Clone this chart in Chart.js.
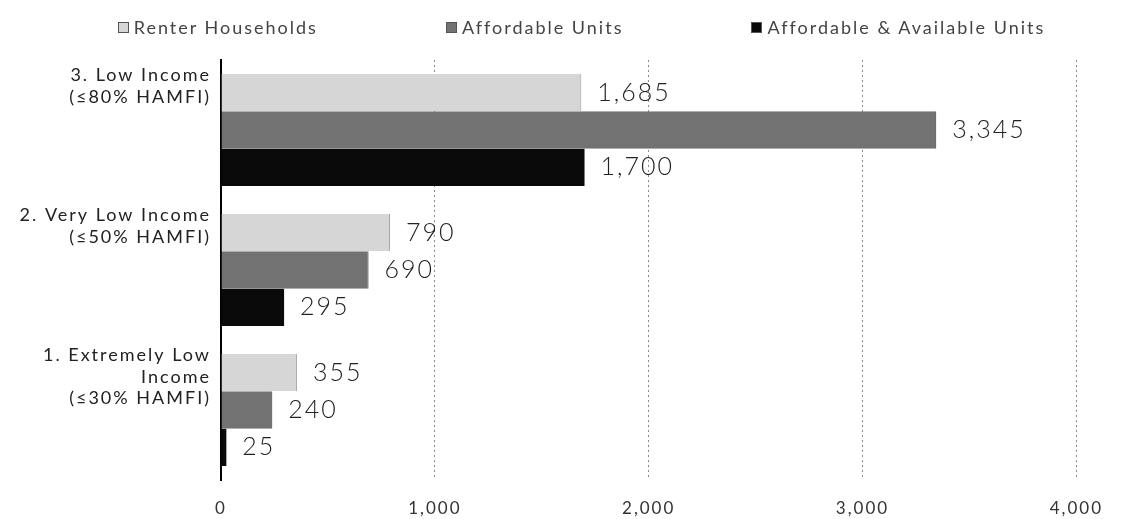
<!DOCTYPE html>
<html>
<head>
<meta charset="utf-8">
<script src="https://cdn.jsdelivr.net/npm/chart.js@4/dist/chart.umd.min.js"></script>
<style>
    html, body { margin: 0; padding: 0; background: #fff; }
    #wrap { position: relative; width: 1121px; height: 519px; }
    #chart { display: block; }
    #legend {
        position: absolute; top: 16px; left: 42px; width: 1079px;
        display: flex; justify-content: center; gap: 128px;
        font-family: "Lato", "DejaVu Sans", sans-serif; font-size: 18px; letter-spacing: 2px; color: #444;
    }
    #legend span.item { display: flex; align-items: center; }
    #legend span.box { display: inline-block; width: 9px; height: 9px; margin-right: 5px; border: 1px solid #555; }
</style>
</head>
<body>
<div id="wrap">
    <div id="legend"></div>
    <canvas id="chart" width="1121" height="519"></canvas>
</div>
<script>
const categories = [
    ["3. Low Income", "(≤80% HAMFI)"],
    ["2. Very Low Income", "(≤50% HAMFI)"],
    ["1. Extremely Low", "Income", "(≤30% HAMFI)"],
];
const seriesNames = ["Renter Households", "Affordable Units", "Affordable & Available Units"];
const renterHouseholds = [1685, 790, 355];
const affordableUnits = [3345, 690, 240];
const affordableAvailable = [1700, 295, 25];
const xTicks = [0, 1000, 2000, 3000, 4000];

const barColors = ["#d6d6d6", "#727272", "#0a0a0a"];
const edgeColors = ["#9a9a9a", "#333333", "#0a0a0a"];

const fmt = (v) => v.toLocaleString("en-US");

// the original uses a wide, spaced-out font
const spacing = {
    id: "spacing",
    beforeLayout(chart) { chart.ctx.letterSpacing = "2px"; },
    beforeDraw(chart) { chart.ctx.letterSpacing = "2px"; },
};

// value labels to the right of each bar
const valueLabels = {
    id: "valueLabels",
    afterDatasetsDraw(chart) {
        const ctx = chart.ctx;
        ctx.save();
        ctx.font = "300 25px Lato, 'DejaVu Sans', sans-serif";
        ctx.fillStyle = "#222";
        ctx.textAlign = "left";
        ctx.textBaseline = "middle";
        chart.data.datasets.forEach((ds, i) => {
            const meta = chart.getDatasetMeta(i);
            meta.data.forEach((bar, j) => {
                ctx.fillText(fmt(ds.data[j]), bar.x + 16, bar.y);
            });
        });
        ctx.restore();
    },
};

const datasets = [renterHouseholds, affordableUnits, affordableAvailable].map((d, i) => ({
    label: seriesNames[i],
    data: d,
    backgroundColor: barColors[i],
    borderColor: edgeColors[i],
    borderWidth: i < 2 ? { right: 1, top: 0, bottom: 0, left: 0 } : 0,
    borderSkipped: false,
    categoryPercentage: 0.8,
    barPercentage: 1.0,
}));

const chart = new Chart(document.getElementById("chart"), {
    type: "bar",
    data: { labels: categories, datasets: datasets },
    options: {
        indexAxis: "y",
        responsive: false,
        animation: false,
        layout: { padding: { top: 60, right: 43, bottom: 0, left: 4 } },
        plugins: {
            legend: { display: false },
            tooltip: { enabled: false },
        },
        scales: {
            x: {
                min: 0,
                max: 4000,
                afterBuildTicks: (scale) => { scale.ticks = xTicks.map((v) => ({ value: v })); },
                afterFit: (scale) => { scale.height = 39; },
                ticks: {
                    padding: 18,
                    color: "#333",
                    font: { family: "Lato, 'DejaVu Sans', sans-serif", size: 17 },
                    callback: (v) => fmt(v),
                },
                grid: {
                    color: (c) => (c.tick && c.tick.value === 0 ? "rgba(0,0,0,0)" : "#8a8a8a"),
                    lineWidth: 1,
                    drawTicks: false,
                },
                border: { display: false, dash: [2, 3] },
            },
            y: {
                afterFit: (scale) => {
                    scale.width = 217;
                    scale.paddingTop = 0;
                    scale.paddingBottom = 0;
                },
                ticks: {
                    padding: 10,
                    labelOffset: -33,
                    color: "#222",
                    font: { family: "Lato, 'DejaVu Sans', sans-serif", size: 18, lineHeight: 1.2 },
                    // pad every label to three lines so they all start near the top of their group
                    callback: (v, i) => {
                        const lines = categories[i];
                        return lines.length < 3 ? lines.concat([""]) : lines;
                    },
                },
                grid: { display: false, drawTicks: false },
                border: { display: true, color: "#000", width: 2 },
            },
        },
    },
    plugins: [spacing, valueLabels],
});

// html legend from the datasets
const legend = document.getElementById("legend");
chart.data.datasets.forEach((ds) => {
    const item = document.createElement("span");
    item.className = "item";
    const box = document.createElement("span");
    box.className = "box";
    box.style.background = ds.backgroundColor;
    item.appendChild(box);
    item.appendChild(document.createTextNode(ds.label));
    legend.appendChild(item);
});
</script>
</body>
</html>
